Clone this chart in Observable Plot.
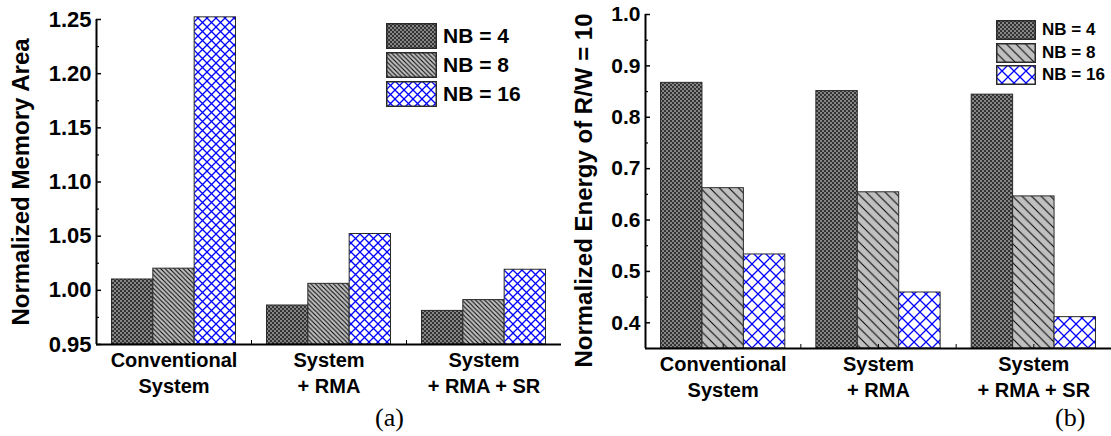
<!DOCTYPE html>
<html>
<head>
<meta charset="utf-8">
<script src="https://cdn.jsdelivr.net/npm/d3@7"></script>
<script src="https://cdn.jsdelivr.net/npm/@observablehq/plot@0.6"></script>
<style>
  html, body { margin: 0; padding: 0; background: #fff; }
  #root { position: relative; width: 1111px; height: 436px; overflow: hidden; font-family: "Liberation Sans", Arial, sans-serif; }
  .plot { position: absolute; top: 0; }
  .legend-row { position: absolute; display: flex; align-items: center; font-weight: bold; color: #000; white-space: nowrap; }
  .legend-row svg { display: block; margin-right: 6px; }
  .panel-tag { position: absolute; font-family: "Liberation Serif", "Times New Roman", serif; font-size: 26px; line-height: 26px; color: #000; }
</style>
</head>
<body>
<div id="root">
  <svg width="0" height="0" style="position:absolute">
    <defs id="pdefs"></defs>
  </svg>
</div>
<script>
// ---------------- data ----------------
const groups = ["Conventional\nSystem", "System\n+ RMA", "System\n+ RMA + SR"];
const series = ["NB = 4", "NB = 8", "NB = 16"];

const areaNB4  = [1.010, 0.986, 0.981];
const areaNB8  = [1.020, 1.006, 0.991];
const areaNB16 = [1.252, 1.052, 1.019];

const energyNB4  = [0.867, 0.851, 0.844];
const energyNB8  = [0.662, 0.654, 0.646];
const energyNB16 = [0.533, 0.459, 0.411];

const areaTicks = [0.95, 1.00, 1.05, 1.10, 1.15, 1.20, 1.25];
const areaMinor = [0.975, 1.025, 1.075, 1.125, 1.175, 1.225];
const energyTicks = [0.4, 0.5, 0.6, 0.7, 0.8, 0.9, 1.0];
const energyMinor = [0.45, 0.55, 0.65, 0.75, 0.85, 0.95];

const titleA = "Normalized Memory Area";
const titleB = "Normalized Energy of R/W = 10";

// ---------------- patterns ----------------
function patterns(suffix, stripe, diamond) {
  const s = stripe, d = diamond;
  return `
  <pattern id="p4${suffix}" width="4" height="4" patternUnits="userSpaceOnUse">
    <rect width="4" height="4" fill="#333333"/>
    <rect width="2" height="2" fill="#858585"/>
    <rect x="2" y="2" width="2" height="2" fill="#858585"/>
  </pattern>
  <pattern id="p8${suffix}" width="${s}" height="${s}" patternUnits="userSpaceOnUse">
    <rect width="${s}" height="${s}" fill="#c0c0c0"/>
    <path d="M0,0L${s},${s}M-1,${s-1}L1,${s+1}M${s-1},-1L${s+1},1" stroke="#000" stroke-width="1"/>
  </pattern>
  <pattern id="p16${suffix}" width="${d}" height="${d}" patternUnits="userSpaceOnUse">
    <rect width="${d}" height="${d}" fill="#ffffff"/>
    <path d="M0,0L${d},${d}M${d},0L0,${d}" stroke="#0000ff" stroke-width="1.3"/>
  </pattern>`;
}
document.getElementById("pdefs").innerHTML = patterns("a", 4.5, 9) + patterns("b", 9.5, 12);

const patIds = ["p4", "p8", "p16"];

// ---------------- chart builder ----------------
function rowsFor(arrays) {
  const rows = [];
  arrays.forEach((arr, s) => arr.forEach((v, g) => rows.push({g, s, v})));
  return rows;
}

function makeChart(cfg) {
  const rows = rowsFor(cfg.values);
  const y0 = cfg.yDomain[0];
  const pad = 0.1, bw = (1 - 2 * pad) / series.length;
  const marks = [];
  series.forEach((name, s) => {
    marks.push(Plot.rect(rows.filter(d => d.s === s), {
      x1: d => d.g + pad + d.s * bw,
      x2: d => d.g + pad + (d.s + 1) * bw,
      y1: y0,
      y2: d => d.v,
      fill: `url(#${patIds[s]}${cfg.suffix})`,
      stroke: "#2a2a2a",
      strokeWidth: 1
    }));
  });
  marks.push(
    Plot.ruleY([y0], {stroke: "#000", strokeWidth: 2}),
    Plot.ruleX([0], {stroke: "#000", strokeWidth: 2}),
    Plot.axisY({ticks: cfg.yTicks, tickFormat: cfg.fmt, tickSize: -5, tickPadding: 10,
      fontSize: cfg.tickFont, fontWeight: "bold", label: null, strokeWidth: 1.5}),
    Plot.axisY({ticks: cfg.yMinor, tickFormat: () => "", tickSize: -3, label: null, strokeWidth: 1.2}),
    Plot.axisX({ticks: groups.map((_, i) => i + 0.5), tickFormat: d => groups[Math.floor(d)],
      tickSize: -4, tickPadding: 8, fontSize: 20, fontWeight: "bold", lineHeight: 1.3, label: null}),
    Plot.axisX({ticks: groups.slice(1).map((_, i) => i + 1), tickFormat: () => "", tickSize: -4, label: null}),
    Plot.text([cfg.title], {frameAnchor: "left", textAnchor: "middle", rotate: -90, dx: cfg.titleDx, dy: cfg.titleDy,
      fontSize: cfg.titleFont, fontWeight: "bold", fill: "#000"})
  );
  return Plot.plot({
    width: cfg.width, height: cfg.height,
    marginLeft: cfg.ml, marginRight: cfg.mr, marginTop: cfg.mt, marginBottom: cfg.mb,
    x: {domain: [0, groups.length]},
    y: {domain: cfg.yDomain},
    style: {fontFamily: '"Liberation Sans", Arial, sans-serif', color: "#000", background: "transparent", overflow: "visible"},
    marks
  });
}

const root = document.getElementById("root");

const chartA = makeChart({
  values: [areaNB4, areaNB8, areaNB16], suffix: "a",
  yDomain: [0.95, 1.25], yTicks: areaTicks, yMinor: areaMinor, fmt: d3.format(".2f"),
  title: titleA, titleFont: 24, titleDx: -75, titleDy: 0, tickFont: 22,
  width: 575, height: 400, ml: 96, mr: 14, mt: 19, mb: 56
});
chartA.classList.add("plot");
chartA.style.left = "0px";
root.appendChild(chartA);

const chartB = makeChart({
  values: [energyNB4, energyNB8, energyNB16], suffix: "b",
  yDomain: [0.35, 1.0], yTicks: energyTicks, yMinor: energyMinor, fmt: d3.format(".1f"),
  title: titleB, titleFont: 24, titleDx: -61, titleDy: 9, tickFont: 21,
  width: 551, height: 400, ml: 85, mr: 0, mt: 14, mb: 52
});
chartB.classList.add("plot");
chartB.style.left = "560px";
root.appendChild(chartB);

// ---------------- legends ----------------
function legend(x, y, w, h, step, fontSize, suffix) {
  series.forEach((name, s) => {
    const row = document.createElement("div");
    row.className = "legend-row";
    row.style.left = x + "px";
    row.style.top = (y + s * step) + "px";
    row.style.height = h + "px";
    row.style.fontSize = fontSize + "px";
    row.innerHTML = `<svg width="${w}" height="${h}"><rect x="0.75" y="0.75" width="${w - 1.5}" height="${h - 1.5}" fill="url(#${patIds[s]}${suffix})" stroke="#2a2a2a" stroke-width="1.5"/></svg><span>${name}</span>`;
    root.appendChild(row);
  });
}
legend(386, 23, 51, 26, 29, 21, "a");
legend(996, 20, 40, 20, 22.7, 17, "b");

// ---------------- panel tags ----------------
[["(a)", 375], ["(b)", 1055]].forEach(([t, x]) => {
  const el = document.createElement("div");
  el.className = "panel-tag";
  el.textContent = t;
  el.style.left = x + "px";
  el.style.top = "405px";
  root.appendChild(el);
});
</script>
</body>
</html>
